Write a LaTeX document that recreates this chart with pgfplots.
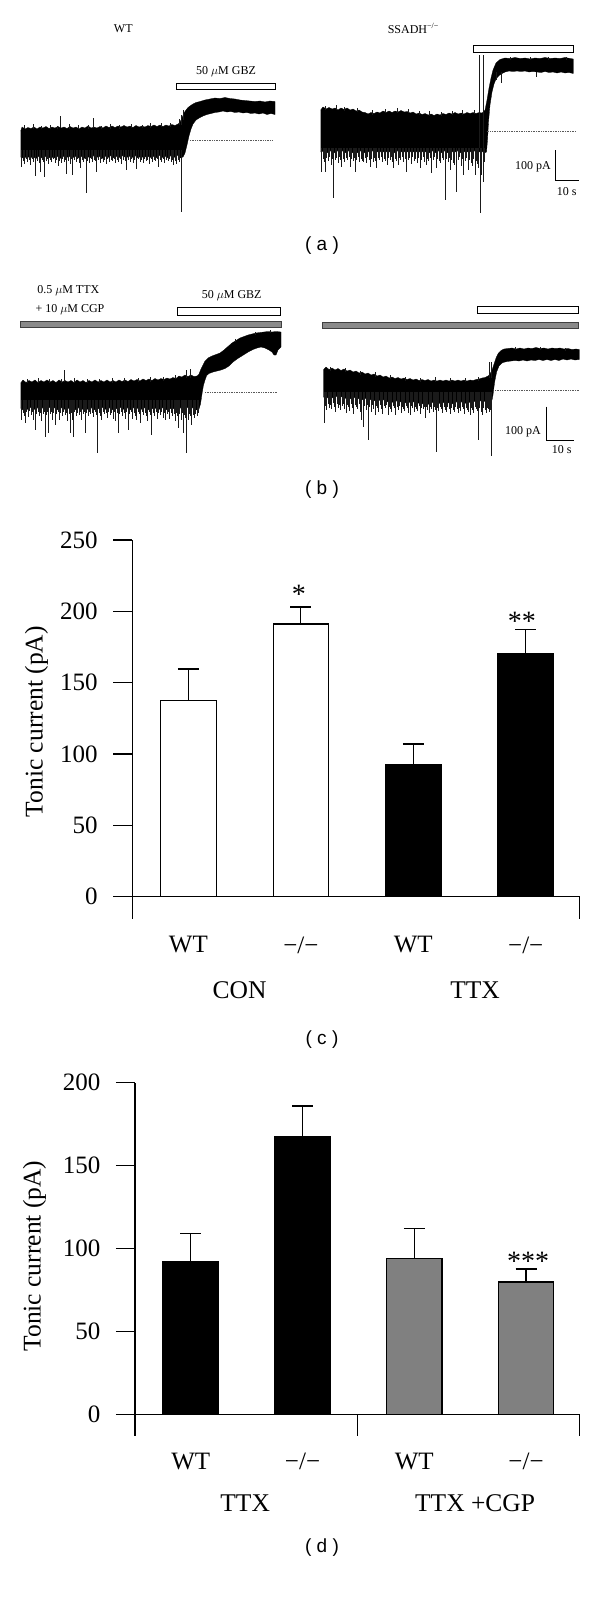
\documentclass[border=0pt]{standalone}
\usepackage{fontspec}
\setmainfont{Liberation Serif}
\newfontfamily\lsans{Liberation Sans}
\usepackage{pgfplots}
\pgfplotsset{compat=1.18}
\definecolor{bargray}{HTML}{808080}
\definecolor{bandgray}{HTML}{8A8A8A}
\definecolor{spikegray}{HTML}{1A1A1A}
\tikzset{
 t12/.style={font=\fontsize{12}{14}\selectfont, inner sep=0pt},
 t25/.style={font=\fontsize{25.5}{30}\selectfont, inner sep=0pt},
 ast/.style={font=\fontsize{28}{32}\selectfont, inner sep=0pt},
 sl/.style={font=\lsans\fontsize{19}{22}\selectfont, inner sep=0pt},
}
\pgfplotsset{
 barchart/.style={scale only axis, anchor=south west, clip=false,
  axis y line=left, axis x line=bottom, x axis line style={draw=none},
  y axis line style={-, line width=1.2pt},
  xtick={1,2,3,4}, xticklabels={WT,−/−,WT,−/−},
  tick align=outside, major tick length=19pt,
  ytick style={line width=1.2pt, black}, xtick style={draw=none},
  tick label style={font=\fontsize{25}{30}\selectfont},
  yticklabel style={xshift=-12pt}, xticklabel style={yshift=5pt},
  /pgf/number format/assume math mode=true,
  ybar, bar width=55.5pt, enlargelimits=false},
 bars/.style={draw=black, line width=1.2pt, bar shift=0pt,
  error bars/.cd, y dir=plus, y explicit, error mark=-,
  error bar style={line width=1.2pt, black},
  error mark options={rotate=90, mark size=10.5pt, line width=1.2pt, black}},
 spikes/.style={draw=none, mark=none, error bars/.cd, y dir=both, y explicit,
  error mark=none, error bar style={draw=spikegray, line width=0.5pt}},
}
\begin{document}
\begin{tikzpicture}
\useasboundingbox (0,0) rectangle (600pt,1598pt);

% ---------------- panel (c)
\begin{axis}[barchart, at={(132.2pt,679pt)}, width=447.5pt, height=379pt,
  xmin=0.5, xmax=4.48, ymin=-15.63, ymax=250, ytick={0,50,...,250}]
\addplot[fill=white, bars] coordinates {(1,137.6) +- (0,22) (2,191.1) +- (0,12)};
\addplot[fill=black, bars] coordinates {(3,92.5) +- (0,14.5) (4,170.3) +- (0,16.7)};
\draw[line width=1.2pt] (axis cs:0.5,0) -- (axis cs:4.48,0) -- (axis cs:4.48,-15.63);
\end{axis}

% ---------------- panel (d)
\begin{axis}[barchart, at={(134.9pt,162.3pt)}, width=444.8pt, height=353pt,
  xmin=0.5, xmax=4.48, ymin=-12.9, ymax=200, ytick={0,50,...,200}]
\addplot[fill=black, bars] coordinates {(1,92.0) +- (0,17.2) (2,167.4) +- (0,18.6)};
\addplot[fill=bargray, bars] coordinates {(3,93.8) +- (0,18.4) (4,79.8) +- (0,7.8)};
\draw[line width=1.2pt] (axis cs:0.5,0) -- (axis cs:4.48,0) -- (axis cs:4.48,-12.9);
\draw[line width=1.2pt] (axis cs:2.49,0) -- (axis cs:2.49,-12.9);
\end{axis}

% ---------------- traces, in picture coordinates (x right, y down)
\begin{axis}[at={(0pt,0pt)}, anchor=south west, scale only axis, width=600pt, height=1598pt,
  xmin=0, xmax=600, ymin=0, ymax=1598, y dir=reverse, axis lines=none, clip=false]

% ===== (a) WT
\addplot[fill=black, draw=black, line width=0.3pt] coordinates {
(20.7,131) (22,127) (25,129) (28,127.5) (31,128.5) (34,127) (37,129) (40,127) (43,128) (46,126.5) (49,128.5) (52,127) (55,128) (58,126.5) (61,128) (64,127) (67,128.5) (70,126.5) (73,128) (76,127) (79,129) (82,127) (85,128) (88,126) (91,128) (94,127) (97,128) (100,126.5) (103,128) (106,126) (109,127.5) (112,126) (115,127.5) (118,126) (121,127) (124,125.5) (127,127) (130,126) (133,127.5) (136,125.5) (139,127) (142,126) (145,127) (148,125.5) (151,126.5) (154,125) (157,126.5) (160,125) (163,126.5) (166,125) (169,126) (172,124.5) (175,125.5) (178,124)
(180,122) (182,118) (184,113) (186,110) (188,107.5) (190,106) (193,104) (196,102.5) (200,101.5) (205,100) (210,99) (215,98) (220,98.5) (225,97.5) (230,98.5) (235,99) (240,100) (245,100.5) (250,101) (255,101.5) (260,101) (265,102) (270,101) (275,101.5)
(275,114.5) (271,113.5) (267,114.5) (263,113) (259,114) (255,113) (251,113.5) (247,112.5) (243,113) (239,112) (235,112.5) (231,111.5) (227,112) (223,111) (219,112) (215,112.5) (211,113.5) (207,114.5) (203,116) (200,117.5) (196,120) (193,124) (191,129) (189,136) (187,145) (185,153) (183,157)
(180,158) (177,155) (174,157.5) (171,155.5) (168,158) (165,156) (162,157.5) (159,155) (156,158) (153,156) (150,157.5) (147,155.5) (144,158) (141,156) (138,158) (135,155.5) (132,157.5) (129,156) (126,158) (123,155.5) (120,157.5) (117,156) (114,158) (111,155.5) (108,157.5) (105,156) (102,158.5) (99,156) (96,158) (93,155.5) (90,158) (87,156) (84,158.5) (81,156) (78,158) (75,156) (72,158.5) (69,156) (66,158) (63,156) (60,158.5) (57,156) (54,158) (51,156.5) (48,158.5) (45,156) (42,158) (39,156) (36,158.5) (33,156.5) (30,158) (27,156) (24,158.5) (20.7,157)
};
\addplot[spikes] table[x=x, y=y, y error plus=ep, y error minus=em] {
x y ep em
21.5 150 17 0
22.8 150 11 0
24.6 150 14 0
26 150 9 0
27.3 150 12 0
29.1 150 10 0
30.5 150 15 0
31.8 150 9 0
33.6 150 12 0
35 150 10 0
35.7 150 25.7 0
37.4 150 11 0
38.9 150 13 0
40 150 21.7 0
41.8 150 10 0
43 150 12 0
44.3 150 27 0
45.9 150 11 0
47.5 150 9 0
48.6 150 14 0
50.2 150 10 0
51.7 150 12 0
53.4 150 9 0
54.8 150 13 0
56.2 150 10 0
57.9 150 16 0
59.3 150 11 0
61 150 13 0
62.4 150 9 0
64 150 12 0
65.5 150 10 0
66.7 150 24 0
68.3 150 11 0
69.8 150 14 0
71.2 150 9 0
72.7 150 25 0
74.5 150 10 0
76 150 12 0
77.6 150 9 0
79 150 13 0
80.5 150 18 0
82 150 10 0
83.6 150 12 0
85 150 9 0
86 150 43.3 0
87.7 150 11 0
89.1 150 13 0
90.8 150 9 0
92.2 150 12 0
93.9 150 10 0
95.3 150 11 0
96.7 150 22.3 0
98.4 150 10 0
99.9 150 13 0
101.5 150 9 0
103 150 12 0
104.6 150 10 0
106.1 150 14 0
107.7 150 9 0
109.2 150 12 0
110.8 150 10 0
112.3 150 11 0
113.9 150 9 0
115.4 150 13 0
117 150 10 0
118.6 150 12 0
120.1 150 9 0
121.7 150 14 0
123.2 150 10 0
124.8 150 11 0
126.7 150 20 0
128.3 150 10 0
129.9 150 12 0
131.4 150 9 0
133 150 13 0
134.6 150 10 0
136.7 150 19.3 0
138.3 150 9 0
139.8 150 12 0
141.4 150 10 0
143 150 13 0
144.5 150 9 0
146.1 150 11 0
147.7 150 10 0
149.2 150 14 0
150.8 150 9 0
152.4 150 12 0
154 150 10 0
155.5 150 11 0
157 150 9 0
158.3 150 16.7 0
160 150 10 0
161.6 150 12 0
163.1 150 9 0
164.7 150 13 0
166.3 150 10 0
167.8 150 11 0
169.4 150 9 0
171 150 12 0
172.5 150 10 0
173.3 150 15 0
175 150 11 0
176.6 150 14 0
178 150 10 0
179.3 150 12 0
181 150 61.7 0
60.7 128 0 12
93.7 128 0 9.7
179 125 0 6
181 125 0 10
183 120 0 10
24 129 0 4
33 129 0 5
41 129 0 3.5
50 129 0 4.5
57 129 0 3
69 129 0 5
78 129 0 4
88 129 0 4.5
101 129 0 3.5
110 129 0 5
119 129 0 4
131 128 0 4.5
142 128 0 3.5
150 128 0 5
161 127 0 4
170 127 0 4.5
};
\addplot[densely dotted, black!65, line width=0.7pt] coordinates {(190,140) (273,140)};
\addplot[fill=white, draw=black, line width=0.8pt] coordinates {(176.3,83) (275,83) (275,89.3) (176.3,89.3) (176.3,83)};
\node[t12] at (226,71.7) {50 $\mu$M GBZ};
\node[t12] at (123.3,28.3) {WT};

% ===== (a) SSADH-/-
\addplot[fill=black, draw=black, line width=0.3pt] coordinates {
(320.7,110) (323,107) (326,109) (329,107.5) (332,109) (335,108) (338,110) (341,108) (344,109.5) (347,108) (350,110) (353,109) (356,111) (359,110) (362,112) (365,112.5) (368,114) (371,112.5) (374,113.5) (377,112) (380,113) (383,111) (386,112.5) (389,111) (392,112.5) (395,111) (398,112) (401,110.5) (404,112) (407,111.5) (410,113) (413,112) (416,114) (419,113) (422,114.5) (425,113.5) (428,115) (431,114) (434,115.5) (437,114) (440,115) (443,113.5) (446,114.5) (449,113) (452,114) (455,112.5) (458,114) (461,113) (464,114) (467,112.5) (470,113.5) (473,112.5) (476,113.5) (479,112.5) (482,113) (485,110) (487,100) (489,88) (491,78) (493,70) (496,63) (500,59.5) (505,58) (510,58.5) (515,57.5) (520,58.5) (525,58) (530,59) (535,58) (540,58.5) (545,57.5) (550,58.5) (555,58) (560,58.5) (565,57.5) (570,58.5) (573.3,59)
(573.3,73.5) (569,72.5) (565,73) (561,72) (557,73) (553,72) (549,72.5) (545,71.5) (541,72.5) (537,72) (533,71.5) (529,72) (525,71) (521,71.5) (517,71) (513,71.5) (509,71) (505,72) (502,73.5) (499,75.5) (496,79) (494,84) (492,92) (490,105) (488.5,122) (487.5,140) (486.5,152)
(484,153) (481,150.5) (478,153) (475,150.5) (472,153) (469,150.5) (466,153) (463,150.5) (460,153) (457,150.5) (454,153) (451,150.5) (448,153) (445,150.5) (442,153) (439,150.5) (436,153) (433,150.5) (430,153) (427,150.5) (424,153) (421,150.5) (418,153) (415,150.5) (412,153) (409,150.5) (406,153) (403,150.5) (400,153) (397,150.5) (394,153) (391,150.5) (388,153) (385,150.5) (382,153) (379,150.5) (376,153) (373,150.5) (370,153) (367,150.5) (364,153) (361,150.5) (358,153) (355,150.5) (352,153) (349,150.5) (346,153) (343,150.5) (340,153) (337,150.5) (334,153) (331,150.5) (328,153) (325,150.5) (320.7,152)
};
\addplot[spikes] table[x=x, y=y, y error plus=ep, y error minus=em] {
x y ep em
321.7 148 23.7 0
323 148 11 0
324.4 148 14 0
325 148 23.7 0
326.5 148 10 0
328 148 13 0
329.5 148 9 0
331 148 17 0
332.4 148 11 0
333.3 148 50.3 0
334.8 148 12 0
336.3 148 10 0
337.8 148 15 0
339.2 148 9 0
340.6 148 12 0
341.7 148 18.7 0
343.2 148 11 0
344.7 148 14 0
346.1 148 10 0
347.6 148 12 0
349 148 9 0
350 148 18.7 0
351.5 148 11 0
353 148 13 0
354.3 148 10 0
355 148 23.7 0
356.5 148 12 0
358 148 9 0
359.5 148 14 0
361 148 11 0
362.4 148 13 0
363.3 148 13.7 0
364.8 148 10 0
366.2 148 15 0
367.7 148 9 0
369 148 12 0
370 148 18.7 0
371.5 148 11 0
373 148 14 0
374.5 148 10 0
375.6 148 13 0
376.7 148 20.3 0
378.2 148 10 0
379.6 148 12 0
381.1 148 9 0
382.6 148 14 0
384 148 11 0
385.5 148 13 0
387 148 17 0
388.4 148 10 0
389.9 148 12 0
391.3 148 9 0
392.5 148 14 0
393.3 148 20.3 0
394.8 148 11 0
396.3 148 13 0
397.8 148 17 0
399.2 148 10 0
400.7 148 12 0
402.1 148 9 0
403.6 148 14 0
405 148 11 0
406.7 148 23.7 0
408.2 148 12 0
409.7 148 10 0
411.1 148 16 0
412.6 148 9 0
414 148 13 0
415.5 148 11 0
417 148 15 0
418.5 148 10 0
420 148 20.3 0
421.4 148 12 0
422.9 148 9 0
424.3 148 14 0
425.8 148 17 0
427.2 148 11 0
428.7 148 13 0
430.1 148 10 0
431.7 148 25.3 0
433.2 148 12 0
434.6 148 9 0
436 148 20 0
437.5 148 11 0
439 148 13 0
440.4 148 15 0
441.9 148 10 0
443.3 148 12 0
445 148 52 0
446.5 148 11 0
448 148 14 0
449.3 148 10 0
450 148 22 0
451.5 148 12 0
453 148 15 0
454.5 148 17 0
455.8 148 10 0
456.7 148 43.7 0
458.2 148 12 0
459.6 148 9 0
461 148 18 0
462.4 148 11 0
463.3 148 27 0
464.8 148 13 0
466.2 148 10 0
468 148 22 0
469.4 148 12 0
470.8 148 15 0
472.2 148 18 0
473.6 148 11 0
475 148 27 0
476.4 148 13 0
477.6 148 16 0
478.5 148 20 0
480 148 65.3 0
481.7 148 27 0
483.3 148 33.7 0
484.5 148 14 0
479.6 148 0 93
483.3 148 0 93
496.7 72 8 0
501.7 72 10.7 0
536.7 72 5 0
325 110 0 4
336 110 0 5
344 111 0 4
357 112 0 4.5
372 115 0 5
385 113 0 4
397 113 0 5
408 113 0 4
419 115 0 4.5
429 116 0 5
441 116 0 4
452 115 0 4.5
462 115 0 5
474 114 0 4
510 60 0 3
530 60 0 3.5
548 60 0 3
566 60 0 3.5
};
\addplot[densely dotted, black!65, line width=0.7pt] coordinates {(486.7,131.7) (576.7,131.7)};
\addplot[fill=white, draw=black, line width=0.8pt] coordinates {(473.3,45) (573.3,45) (573.3,52.3) (473.3,52.3) (473.3,45)};
\addplot[black, line width=0.8pt] coordinates {(555,150) (555,180.3) (579.3,180.3)};
\node[t12, anchor=east] at (551,166.7) {100 pA};
\node[t12] at (566.7,191.7) {10 s};
\node[t12] at (413.3,28.3) {SSADH\textsuperscript{−/−}};
\node[sl] at (322,246) {( a )};

% ===== (b) WT
\addplot[fill=black, draw=black, line width=0.3pt] coordinates {
(20.7,383) (23,380) (26,382.5) (29,380.5) (32,382) (35,380) (38,382.5) (41,380.5) (44,382) (47,380) (50,382) (53,380.5) (56,382.5) (59,380) (62,382) (65,380.5) (68,382) (71,380.5) (74,382.5) (77,380) (80,382) (83,380.5) (86,382.5) (89,380.5) (92,382) (95,380) (98,382) (101,380.5) (104,382) (107,380) (110,382) (113,380.5) (116,382) (119,380) (122,381.5) (125,380) (128,381.5) (131,379.5) (134,381) (137,379.5) (140,381) (143,379) (146,380.5) (149,379) (152,380.5) (155,378.5) (158,380) (161,378.5) (164,379.5) (167,378) (170,379) (173,377.5) (176,378.5) (179,376) (182,377) (185,375) (188,376.5) (191,375) (194,376.5) (197,376) (199,374) (201,369) (203,365) (205,361) (208,358) (212,356) (216,354.5) (220,353) (224,350) (228,346.5) (232,343) (236,340.5) (240,338) (244,336.5) (248,335) (252,334) (256,333) (260,332.5) (264,332) (268,331.5) (272,332) (276,331.5) (281,332)
(281,347) (278,350) (276,355) (274,355) (272,352) (269,350) (265,348) (261,347) (257,348) (253,349.5) (249,351.5) (245,354) (241,356.5) (237,359) (233,362) (229,366) (225,368.5) (221,370) (217,371) (213,372) (209,373.5) (206.7,375.5) (205,380) (203.3,386) (202,394) (200.5,404) (199,409)
(196,410) (193,407.5) (190,409.5) (187,407) (184,409.5) (181,407.5) (178,410) (175,407.5) (172,409.5) (169,407.5) (166,410) (163,407.5) (160,409.5) (157,407) (154,409.5) (151,407.5) (148,410) (145,407.5) (142,409.5) (139,407) (136,409.5) (133,407.5) (130,410) (127,407.5) (124,409.5) (121,407) (118,409.5) (115,407.5) (112,410) (109,407.5) (106,409.5) (103,407) (100,409.5) (97,407.5) (94,410) (91,407.5) (88,409.5) (85,407) (82,409.5) (79,407.5) (76,410) (73,407.5) (70,409.5) (67,407) (64,409.5) (61,407.5) (58,410) (55,407.5) (52,409.5) (49,407) (46,409.5) (43,407.5) (40,410) (37,407.5) (34,409.5) (31,407) (28,409.5) (25,407.5) (22,410) (20.7,408)
};
\addplot[spikes] table[x=x, y=y, y error plus=ep, y error minus=em] {
x y ep em
21.5 400 20 0
22.8 400 13 0
24 400 16 0
25 400 23.3 0
26.5 400 12 0
28 400 17 0
29.4 400 11 0
31 400 15 0
32.3 400 12 0
33.5 400 20 0
35 400 30 0
36.5 400 14 0
37.8 400 12 0
39.2 400 16 0
40.6 400 13 0
41.5 400 21 0
43 400 14 0
44.2 400 12 0
45 400 36.7 0
46.4 400 15 0
47.5 400 12 0
48.3 400 33.3 0
49.8 400 14 0
51.2 400 12 0
52.3 400 20 0
53.7 400 13 0
55 400 25 0
56.4 400 14 0
57.8 400 12 0
59.2 400 20 0
60.6 400 13 0
62 400 16 0
63.4 400 12 0
65 400 15 0
66.4 400 13 0
67.5 400 21 0
68.9 400 14 0
70 400 33.3 0
71.4 400 13 0
72.3 400 20 0
73.3 400 36.7 0
74.7 400 12 0
76.1 400 16 0
77.5 400 13 0
78.9 400 15 0
80.3 400 12 0
81.5 400 20 0
83 400 14 0
84.3 400 12 0
85 400 33.3 0
86.5 400 13 0
88 400 16 0
89.3 400 12 0
90.7 400 14 0
92 400 13 0
93.5 400 17 0
95 400 12 0
96.3 400 15 0
97.3 400 53 0
98.8 400 13 0
100.2 400 16 0
101.5 400 20 0
103 400 12 0
104.4 400 14 0
105.8 400 13 0
107.2 400 18 0
108.6 400 12 0
110 400 15 0
111.4 400 13 0
112.8 400 19 0
114.2 400 12 0
115.5 400 21 0
116.9 400 13 0
118.3 400 33 0
119.7 400 14 0
121.1 400 12 0
122.5 400 16 0
123.9 400 13 0
125.3 400 19 0
126.7 400 12 0
128.3 400 30 0
129.7 400 14 0
131.1 400 12 0
132.5 400 19 0
133.9 400 13 0
135.3 400 16 0
136.7 400 20 0
138 400 12 0
139.4 400 14 0
140.6 400 23 0
142 400 12 0
143.4 400 15 0
144.8 400 13 0
146.2 400 16 0
147.6 400 21 0
149 400 12 0
150.4 400 15 0
151.7 400 35 0
153.1 400 13 0
154.5 400 16 0
155.9 400 12 0
157.3 400 19 0
158.7 400 13 0
160.1 400 15 0
161.5 400 12 0
162.9 400 18 0
164.3 400 13 0
165.5 400 20 0
166.9 400 14 0
168.3 400 12 0
169.7 400 19 0
171.1 400 13 0
172.5 400 16 0
173.9 400 14 0
175.2 400 21 0
176.4 400 13 0
177.4 400 16 0
178.3 400 28.3 0
179.7 400 14 0
181.1 400 20 0
182.3 400 13 0
183.3 400 33 0
184.6 400 15 0
185.7 400 18 0
186.7 400 53 0
188 400 20 0
189.2 400 14 0
190.4 400 16 0
191.7 400 25 0
193 400 15 0
194.3 400 18 0
195.6 400 14 0
197 400 16 0
198.3 400 13 0
64.3 382 0 12
186.7 378 0 8
190 378 0 8.7
27 383 0 4
38 383 0 5
49 383 0 4
61 383 0 4.5
74 383 0 5
87 383 0 4
99 383 0 4.5
112 383 0 5
124 382 0 4
138 382 0 4.5
150 382 0 5
163 381 0 4
175 379 0 4.5
235 342 0 3
255 335 0 3.5
270 333 0 3
};
\addplot[densely dotted, black!65, line width=0.7pt] coordinates {(205,392.3) (276.7,392.3)};
\addplot[fill=white, draw=black, line width=0.8pt] coordinates {(177.3,307.3) (280,307.3) (280,315.7) (177.3,315.7) (177.3,307.3)};
\addplot[fill=bandgray, draw=black!75, line width=0.8pt] coordinates {(20.7,321) (281,321) (281,327.3) (20.7,327.3) (20.7,321)};
\node[t12] at (68.3,290.7) {0.5 $\mu$M TTX};
\node[t12] at (70,309.3) {+ 10 $\mu$M CGP};
\node[t12] at (231.7,296) {50 $\mu$M GBZ};

% ===== (b) SSADH-/-
\addplot[fill=black, draw=black, line width=0.3pt] coordinates {
(323.3,370) (326,367) (329,369.5) (332,368) (335,370) (338,368.5) (341,370.5) (344,369) (347,371) (350,370) (353,372) (356,371) (359,373) (362,372) (365,374) (368,373) (371,375) (374,374) (377,376) (380,375) (383,377) (386,376) (389,378) (392,377) (395,378.5) (398,377.5) (401,379) (404,378) (407,379.5) (410,378.5) (413,380) (416,379) (419,380.5) (422,379.5) (425,380.5) (428,379.5) (431,381) (434,380) (437,381) (440,380) (443,381) (446,380) (449,381) (452,380) (455,381) (458,380) (461,381) (464,380) (467,381) (470,380) (473,380.5) (476,379.5) (479,379) (482,378) (485,377.5) (488,376) (490,374) (492,370) (494,364) (496,358) (498.3,353.3) (501,350.5) (504,349) (508,348.5) (512,348) (516,349) (520,348) (524,349) (528,348) (532,348.5) (536,347.5) (540,348.5) (544,348) (548,349) (552,348) (556,348.5) (560,348) (564,349) (568,348.5) (572,349.5) (576,349) (579.3,349.5)
(579.3,359.5) (575,360) (571,359) (567,360) (563,359) (559,360.5) (555,359.5) (551,360.5) (547,359.5) (543,360.5) (539,359.5) (535,360.5) (531,360) (527,361) (523,360) (519,361) (515,360.5) (511,361) (507,361.5) (503,362.5) (501.7,363.3) (499,366) (496.7,371.7) (495,380) (494,386.7) (493,395) (492,400)
(489,402) (486,400) (483,402.5) (480,400.5) (477,403) (474,401) (471,403.5) (468,401) (465,403.5) (462,401.5) (459,404) (456,401.5) (453,404) (450,401.5) (447,404) (444,402) (441,404.5) (438,402) (435,404) (432,402) (429,404.5) (426,402) (423,404) (420,402) (417,404) (414,401.5) (411,403.5) (408,401) (405,403) (402,400.5) (399,403) (396,400.5) (393,402.5) (390,400) (387,402) (384,399.5) (381,401.5) (378,399) (375,401) (372,398.5) (369,400.5) (366,398) (363,400) (360,397.5) (357,399.5) (354,397) (351,399) (348,396.5) (345,398.5) (342,396.5) (339,398) (336,396) (333,398) (330,396) (327,398) (323.3,397)
};
\addplot[spikes] table[x=x, y=y, y error plus=ep, y error minus=em] {
x y ep em
324 392 31.3 0
325.3 392 14 0
326.5 392 18 0
327.8 392 12 0
329 392 16 0
330.3 392 13 0
331.6 392 17 0
332.9 392 11 0
334.2 392 15 0
335.5 392 20 0
336.8 392 12 0
338.1 392 16 0
339.4 392 13 0
340.6 392 18 0
341.9 392 14 0
343.2 392 12 0
344.5 392 17 0
345.8 392 21 0
347.1 392 13 0
348.4 392 15 0
349.7 392 19 0
351 392 12 0
352.3 392 16 0
353.6 392 22 0
354.9 392 13 0
356.2 392 15 0
357.5 392 17 0
358.8 392 12 0
360.1 392 20 0
361.7 392 28 0
363.3 392 34.7 0
364.6 392 14 0
365.9 392 18 0
367.2 392 13 0
368.3 392 48 0
369.6 392 15 0
370.9 392 20 0
372.2 392 13 0
373.5 392 17 0
374.8 392 23 0
376.1 392 14 0
377.4 392 16 0
378.7 392 20 0
380 392 13 0
381.3 392 17 0
382.6 392 22 0
383.9 392 14 0
385.2 392 16 0
386.5 392 13 0
387.8 392 23 0
389.1 392 15 0
390.4 392 17 0
391.7 392 20 0
393 392 14 0
394.3 392 16 0
395.6 392 23 0
396.9 392 15 0
398.2 392 18 0
399.5 392 14 0
400.8 392 21 0
402.1 392 15 0
403.4 392 17 0
404.7 392 19 0
406 392 14 0
407.3 392 16 0
408.6 392 21 0
409.9 392 23 0
411.2 392 14 0
412.5 392 16 0
413.8 392 20 0
415.1 392 15 0
416.4 392 17 0
417.7 392 19 0
419 392 14 0
420.3 392 22 0
421.6 392 16 0
422.9 392 17 0
424.2 392 15 0
425 392 26.3 0
426.3 392 15 0
427.6 392 18 0
428.9 392 21 0
430.2 392 15 0
431.5 392 17 0
432.8 392 20 0
434.1 392 15 0
435.2 392 18 0
436 392 59.7 0
437.3 392 16 0
438.6 392 19 0
439.9 392 15 0
441.2 392 17 0
442.5 392 21 0
443.8 392 15 0
445.1 392 18 0
446.4 392 20 0
447.7 392 15 0
449 392 17 0
450.3 392 22 0
451.6 392 16 0
452.9 392 18 0
454.2 392 20 0
455.5 392 15 0
456.8 392 17 0
458.1 392 21 0
459.4 392 16 0
460.7 392 19 0
462 392 15 0
463.3 392 17 0
464.6 392 22 0
465.9 392 16 0
467.2 392 18 0
468.5 392 20 0
469.8 392 23 0
471.1 392 16 0
472.4 392 18 0
473.7 392 21 0
475 392 15 0
476.3 392 17 0
477.4 392 19 0
478.3 392 48 0
479.6 392 16 0
480.9 392 20 0
482.2 392 23 0
483.5 392 16 0
484.8 392 18 0
486.1 392 21 0
487.4 392 16 0
488.6 392 17 0
489.5 392 20 0
490.6 392 18 0
491.7 392 64 0
489 378 0 16
491 378 0 16
330 371 0 4
345 372 0 4.5
360 375 0 4
375 377 0 5
390 379 0 4
405 381 0 4.5
420 382 0 4
435 382 0 5
450 382 0 4
465 382 0 4.5
478 381 0 4
515 350 0 3
540 350 0 3.5
565 351 0 3
};
\addplot[densely dotted, black!65, line width=0.7pt] coordinates {(495,390.7) (579.3,390.7)};
\addplot[fill=white, draw=black, line width=0.8pt] coordinates {(477.3,306.7) (578.3,306.7) (578.3,313.3) (477.3,313.3) (477.3,306.7)};
\addplot[fill=bandgray, draw=black!75, line width=0.8pt] coordinates {(322.3,322.3) (578.3,322.3) (578.3,328.3) (322.3,328.3) (322.3,322.3)};
\addplot[black, line width=0.8pt] coordinates {(546.7,406.7) (546.7,440.7) (574,440.7)};
\node[t12, anchor=east] at (541,431.7) {100 pA};
\node[t12] at (561.7,450) {10 s};
\node[sl] at (322,490) {( b )};

% ===== labels of (c)
\node[t25, rotate=90] at (36.4,721.7) {Tonic current (pA)};
\node[t25] at (239.5,990) {CON};
\node[t25] at (475.1,990) {TTX};
\node[ast] at (298.9,594.5) {*};
\node[ast] at (521.8,621.2) {**};
\node[sl] at (322,1040) {( c )};

% ===== labels of (d)
\node[t25, rotate=90] at (34.5,1256) {Tonic current (pA)};
\node[t25] at (245.2,1502.7) {TTX};
\node[t25] at (475.1,1502.7) {TTX +CGP};
\node[ast] at (528,1261.5) {***};
\node[sl] at (322,1548) {( d )};
\end{axis}
\end{tikzpicture}
\end{document}
